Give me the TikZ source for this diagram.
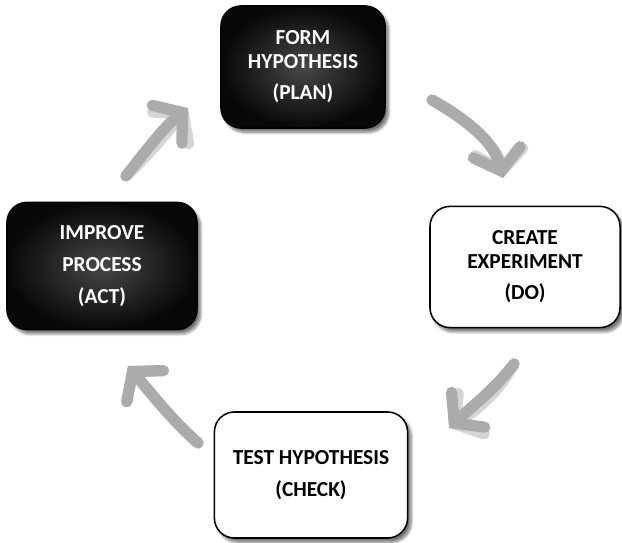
\documentclass[tikz,border=0pt]{standalone}
\usepackage{fontspec}
\setmainfont{Carlito}
\usetikzlibrary{arrows.meta, shadows, shadows.blur, positioning}
\tikzset{phase/.style={rectangle, rounded corners=0.5cm, draw=black, line width=1.1pt,
        align=center, font=\fontsize{15.2}{16.5}\selectfont\bfseries, inner sep=0pt,
        blur shadow={shadow xshift=2.5pt, shadow yshift=-3pt, shadow blur steps=10, shadow opacity=55}},
    dark phase/.style={phase, shading=radial, inner color=black!72, outer color=black!97, text=white},
    light phase/.style={phase, fill=white, text=black},
    cycle arrow/.style={draw=black!33, line width=8pt, line cap=round,
        -{Straight Barb[length=0.48cm, width=1.2cm, line cap=round]}},
    arrow shade/.style={cycle arrow, draw=black!55, opacity=0.3}}

\begin{document}
\begin{tikzpicture}[x=0.025cm, y=-0.025cm]
    \useasboundingbox (0,0) rectangle (622,543);

    % The four PDCA phases
    \node[dark phase, minimum width=4.1cm, minimum height=3.05cm] (plan) at (303,67)
        {FORM\\HYPOTHESIS\\[6pt](PLAN)};
    \node[light phase, minimum width=4.75cm, minimum height=3.03cm] (do) at (525,267)
        {CREATE\\EXPERIMENT\\[6pt](DO)};
    \node[light phase, minimum width=4.83cm, minimum height=3.15cm] (check) at (311,475)
        {TEST HYPOTHESIS\\[6pt](CHECK)};
    \node[dark phase, minimum width=4.75cm, minimum height=3.18cm] (act) at (102,266)
        {IMPROVE\\[6pt]PROCESS\\[6pt](ACT)};

    % Ends of the cycle arrows
    \coordinate (plan out) at (432,100);
    \coordinate (do in)    at (503,178);
    \coordinate (do out)   at (514,364);
    \coordinate (check in) at (449,428);
    \coordinate (check out) at (198,443);
    \coordinate (act in)   at (128,366);
    \coordinate (act out)  at (126,176);
    \coordinate (plan in)  at (188,108);

    % Soft shadows under the arrows
    \begin{scope}[xshift=2.5pt, yshift=-3pt]
        \draw[arrow shade] (plan out) .. controls (472,122) and (495,145) .. (do in);
        \draw[arrow shade] (do out) .. controls (494,390) and (470,408) .. (check in);
        \draw[arrow shade] (check out) .. controls (170,418) and (150,392) .. (act in);
        \draw[arrow shade] (act out) .. controls (148,148) and (165,126) .. (plan in);
    \end{scope}

    % Cycle arrows
    \draw[cycle arrow] (plan out) .. controls (472,122) and (495,145) .. (do in);
    \draw[cycle arrow] (do out) .. controls (494,390) and (470,408) .. (check in);
    \draw[cycle arrow] (check out) .. controls (170,418) and (150,392) .. (act in);
    \draw[cycle arrow] (act out) .. controls (148,148) and (165,126) .. (plan in);
\end{tikzpicture}
\end{document}
